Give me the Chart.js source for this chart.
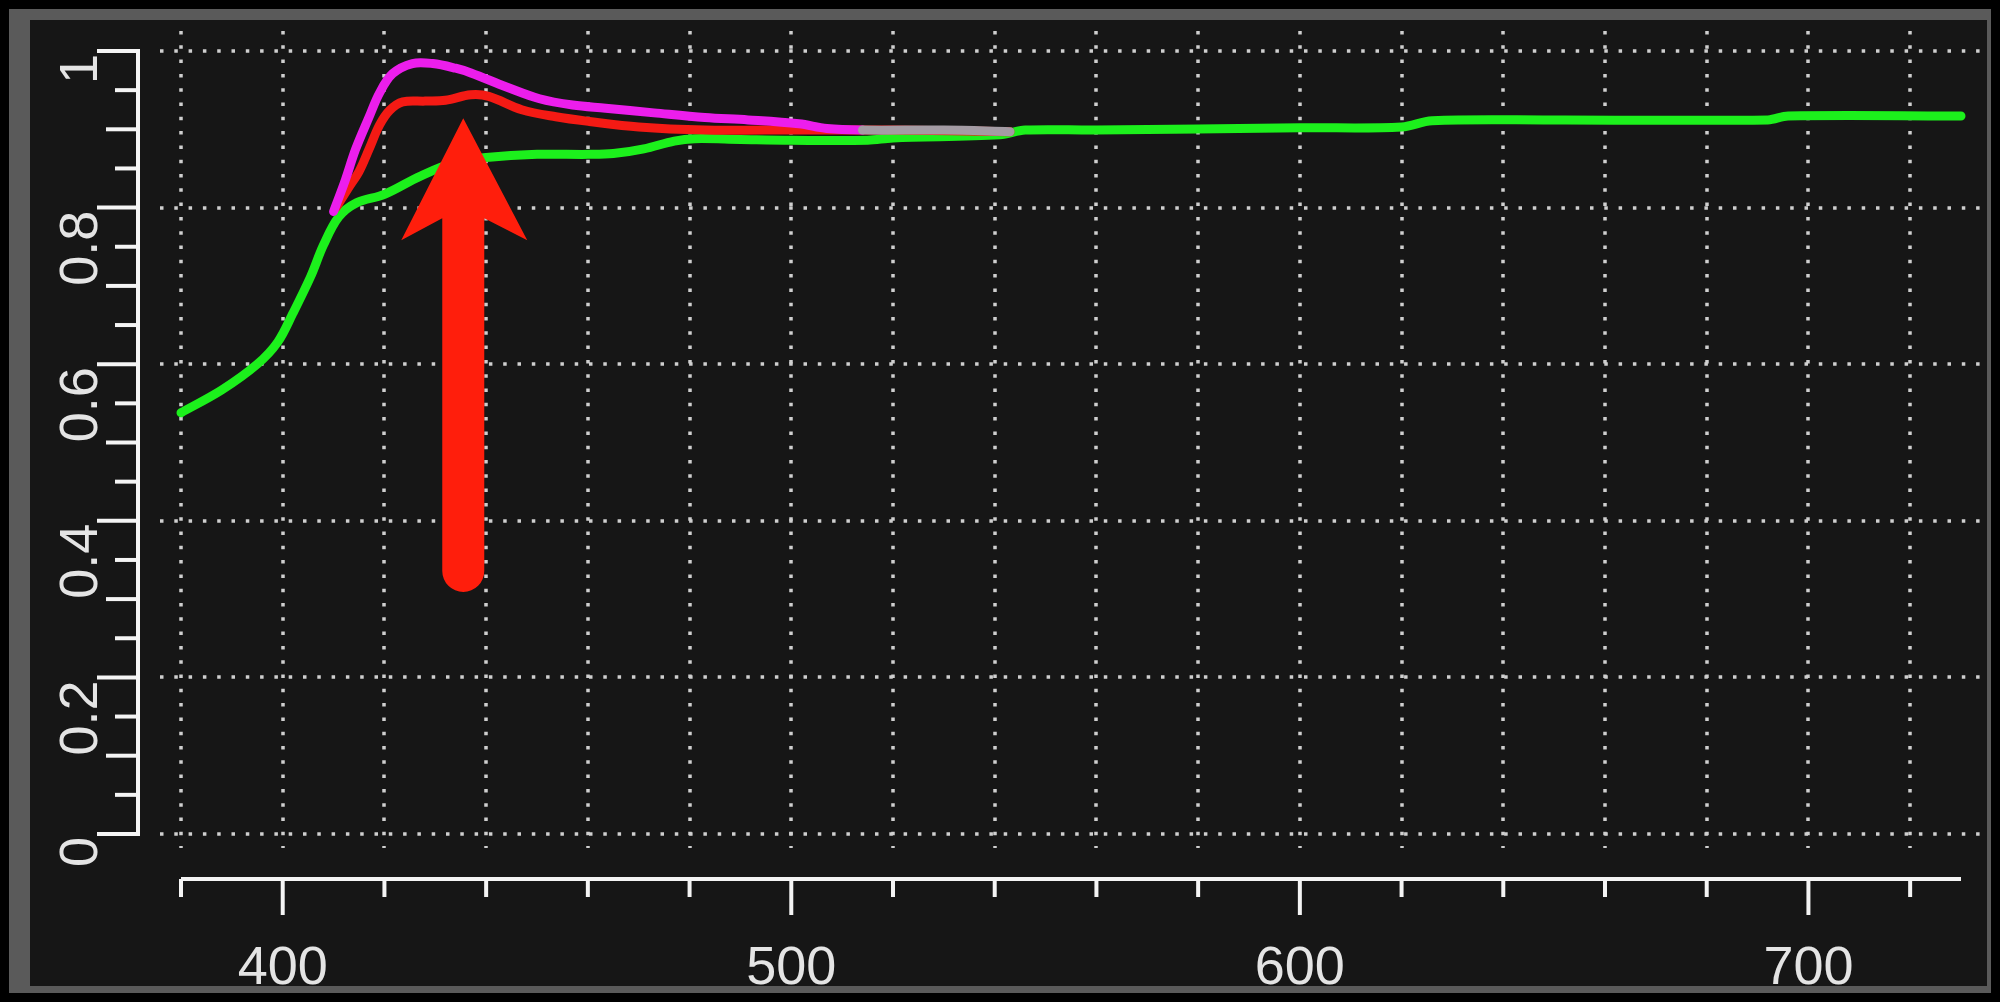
<!DOCTYPE html>
<html>
<head>
<meta charset="utf-8">
<style>
    html, body { margin: 0; padding: 0; background: #000; }
    #wrap { width: 2000px; height: 1002px; }
</style>
<script src="https://cdn.jsdelivr.net/npm/chart.js@4.4.1/dist/chart.umd.min.js"></script>
</head>
<body>
<div id="wrap"><canvas id="chart" width="2000" height="1002"></canvas></div>
<script>
// wavelength (nm) / value pairs
const greenWl = [380, 388, 395, 399, 402, 405.5, 408, 411, 414.5, 420, 427, 434, 440, 450, 460, 465, 471, 477, 481, 490, 500, 515, 520, 541, 546, 560, 600, 620, 626, 650, 692, 696, 730];
const greenVal = [0.538, 0.567, 0.600, 0.628, 0.665, 0.712, 0.752, 0.788, 0.806, 0.817, 0.840, 0.858, 0.864, 0.868, 0.868, 0.869, 0.875, 0.885, 0.888, 0.887, 0.886, 0.886, 0.889, 0.893, 0.899, 0.899, 0.902, 0.903, 0.911, 0.912, 0.912, 0.917, 0.917];

const magentaWl = [410, 412.3, 414.3, 417, 419, 421.6, 425.5, 429.5, 434, 437, 444, 450.5, 457, 463.5, 473, 483, 491.5, 501.5, 507, 514, 530, 543];
const magentaVal = [0.795, 0.835, 0.874, 0.916, 0.946, 0.971, 0.984, 0.984, 0.978, 0.972, 0.954, 0.939, 0.931, 0.927, 0.921, 0.915, 0.912, 0.907, 0.901, 0.899, 0.899, 0.897];

const redWl = [410.5, 413, 415, 417, 419, 421, 423.6, 428, 432, 437, 440.5, 447, 453.7, 460.3, 470, 483, 495, 520, 543];
const redVal = [0.80, 0.826, 0.846, 0.875, 0.905, 0.924, 0.935, 0.936, 0.937, 0.944, 0.942, 0.925, 0.916, 0.910, 0.903, 0.899, 0.899, 0.899, 0.897];

const xTicks = [380, 400, 420, 440, 460, 480, 500, 520, 540, 560, 580, 600, 620, 640, 660, 680, 700, 720];
const xLabels = [400, 500, 600, 700];
const yTicks = [0, 0.05, 0.1, 0.15, 0.2, 0.25, 0.3, 0.35, 0.4, 0.45, 0.5, 0.55, 0.6, 0.65, 0.7, 0.75, 0.8, 0.85, 0.9, 0.95, 1];
const yLabels = [0, 0.2, 0.4, 0.6, 0.8, 1];

// arrow annotation (wavelength, from value, to value)
const arrowWl = 435.5;
const arrowFrom = 0.336;
const arrowTo = 0.914;

const magentaGreyFrom = 514;

const GREEN = "#1cf01c";
const MAGENTA = "#ec1eec";
const RED = "#f41a14";
const GREY = "#a49ca4";
const TEXT = "#e4e4e4";
const DOTS = "#cfcfcf";

function pairs(xs, ys) {
    return xs.map((x, i) => ({ x, y: ys[i] }));
}

function fmt(v) {
    return String(Math.round(v * 10) / 10);
}

const framePlugin = {
    id: "frame",
    beforeDraw(chart) {
        const { ctx, width, height } = chart;
        ctx.save();
        ctx.fillStyle = "#000";
        ctx.fillRect(0, 0, width, height);
        ctx.fillStyle = "#5a5a5a";
        ctx.fillRect(9, 9, width - 18, height - 18);
        ctx.fillStyle = "#161616";
        ctx.fillRect(30, 20, width - 43, height - 36);
        ctx.restore();
    }
};

const axesPlugin = {
    id: "axes",
    beforeDatasetsDraw(chart) {
        const { ctx } = chart;
        const xs = chart.scales.x;
        const ys = chart.scales.y;
        const left = xs.getPixelForValue(380);
        const right = xs.getPixelForValue(730);
        const y0 = ys.getPixelForValue(0);
        const y1 = ys.getPixelForValue(1);

        ctx.save();
        // dotted grid
        ctx.strokeStyle = DOTS;
        ctx.lineWidth = 3.5;
        ctx.setLineDash([3.5, 10.8]);
        xTicks.forEach(v => {
            const px = Math.round(xs.getPixelForValue(v));
            ctx.beginPath();
            ctx.moveTo(px, y1 - 20);
            ctx.lineTo(px, y0 + 14);
            ctx.stroke();
        });
        yLabels.forEach(v => {
            const py = Math.round(ys.getPixelForValue(v));
            ctx.beginPath();
            ctx.moveTo(left - 21, py);
            ctx.lineTo(right + 22, py);
            ctx.stroke();
        });
        ctx.setLineDash([]);

        // y axis
        const ax = left - 43;
        ctx.strokeStyle = "#f4f4f4";
        ctx.lineWidth = 4;
        ctx.beginPath();
        ctx.moveTo(ax, y1 - 2);
        ctx.lineTo(ax, y0 + 2);
        ctx.stroke();
        yTicks.forEach((v, i) => {
            const py = ys.getPixelForValue(v);
            const len = i % 4 === 0 ? 41 : (i % 2 === 0 ? 32 : 23);
            ctx.beginPath();
            ctx.moveTo(ax, py);
            ctx.lineTo(ax - len, py);
            ctx.stroke();
        });

        // x axis
        const ay = y0 + 45;
        ctx.beginPath();
        ctx.moveTo(left, ay);
        ctx.lineTo(right, ay);
        ctx.stroke();
        xTicks.forEach(v => {
            const px = xs.getPixelForValue(v);
            const len = v % 100 === 0 ? 36 : 18;
            ctx.beginPath();
            ctx.moveTo(px, ay);
            ctx.lineTo(px, ay + len);
            ctx.stroke();
        });

        // labels
        ctx.fillStyle = TEXT;
        ctx.font = "54px 'Liberation Sans', Arial, sans-serif";
        ctx.textAlign = "center";
        ctx.textBaseline = "alphabetic";
        xLabels.forEach(v => {
            ctx.fillText(String(v), xs.getPixelForValue(v), ay + 105);
        });
        yLabels.forEach(v => {
            const py = ys.getPixelForValue(v);
            ctx.save();
            ctx.translate(ax - 41, py + 3);
            ctx.rotate(-Math.PI / 2);
            ctx.textAlign = "right";
            ctx.fillText(fmt(v), 0, 0);
            ctx.restore();
        });
        ctx.restore();
    },
    afterDatasetsDraw(chart) {
        const { ctx } = chart;
        const xs = chart.scales.x;
        const ys = chart.scales.y;
        const cx = xs.getPixelForValue(arrowWl);
        const tip = ys.getPixelForValue(arrowTo);
        const tail = ys.getPixelForValue(arrowFrom);
        const half = 21;
        ctx.save();
        ctx.fillStyle = "#ff1e0c";
        ctx.beginPath();
        ctx.moveTo(cx, tip);
        ctx.lineTo(cx + 64, tip + 122);
        ctx.lineTo(cx + half, tip + 100);
        ctx.lineTo(cx + half, tail);
        ctx.arc(cx, tail, half, 0, Math.PI, false);
        ctx.lineTo(cx - half, tip + 100);
        ctx.lineTo(cx - 62, tip + 122);
        ctx.closePath();
        ctx.fill();
        ctx.restore();
    }
};

function lineSet(label, data, color, order, extra) {
    return Object.assign({
        label,
        data,
        borderColor: color,
        backgroundColor: color,
        borderWidth: 9,
        pointRadius: 0,
        tension: 0.35,
        borderCapStyle: "round",
        borderJoinStyle: "round",
        fill: false,
        clip: false,
        order
    }, extra || {});
}

new Chart(document.getElementById("chart").getContext("2d"), {
    type: "line",
    data: {
        datasets: [
            lineSet("magenta", pairs(magentaWl, magentaVal), MAGENTA, 1, {
                segment: {
                    borderColor: c => c.p0.parsed.x >= magentaGreyFrom ? GREY : MAGENTA
                }
            }),
            lineSet("red", pairs(redWl, redVal), RED, 2),
            lineSet("green", pairs(greenWl, greenVal), GREEN, 3)
        ]
    },
    options: {
        responsive: false,
        animation: false,
        devicePixelRatio: 1,
        layout: { padding: { left: 181, right: 39, top: 51, bottom: 168 } },
        plugins: {
            legend: { display: false },
            tooltip: { enabled: false }
        },
        scales: {
            x: { type: "linear", min: 380, max: 730, display: false },
            y: { type: "linear", min: 0, max: 1, display: false }
        }
    },
    plugins: [framePlugin, axesPlugin]
});
</script>
</body>
</html>
